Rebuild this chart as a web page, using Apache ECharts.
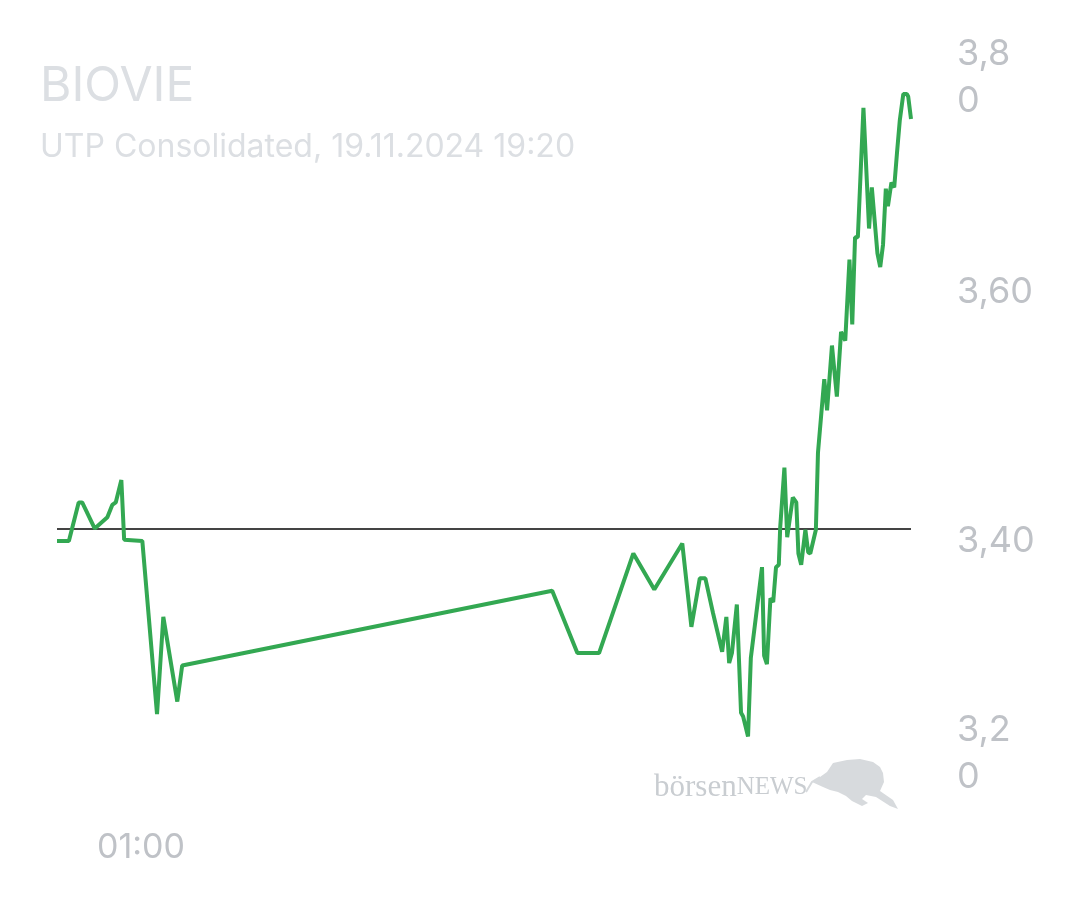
<!DOCTYPE html>
<html>
<head>
<meta charset="utf-8">
<style>html,body{margin:0;padding:0;background:#fff}#c{width:1080px;height:900px}</style>
<script src="https://cdn.jsdelivr.net/npm/echarts@6/dist/echarts.min.js"></script>
</head>
<body>
<div id="c"></div>
<script>
// minutes from midnight 19.11.2024 (negative = previous evening)
const times = [-60,-43,-29,-24,-6,12,19,24,32,36,62,83,92,112,119,
  648,684,715,764,794,834,847,859,867,878,891,897,901,905,912,918,921,928,932,
  948,951,955,960,964,968,972,974,980,984,992,997,1000,1004,1010,1014,1017,
  1025,1028,1037,1041,1048,1055,1061,1067,1073,1077,1081,1085,1093,1101,1105,
  1113,1117,1121,1125,1128,1133,1137,1141,1145,1150,1155,1157,1161];
const prices = [3.400,3.400,3.431,3.431,3.410,3.419,3.429,3.431,3.449,3.401,3.400,3.261,3.339,3.271,3.300,
  3.360,3.310,3.310,3.390,3.361,3.398,3.331,3.370,3.370,3.342,3.311,3.339,3.302,3.310,3.349,3.262,3.259,3.243,3.306,
  3.379,3.308,3.301,3.354,3.351,3.379,3.381,3.411,3.459,3.403,3.435,3.431,3.390,3.381,3.409,3.391,3.390,
  3.409,3.471,3.530,3.505,3.557,3.516,3.568,3.561,3.626,3.574,3.644,3.644,3.748,3.651,3.684,
  3.631,3.620,3.638,3.683,3.669,3.688,3.684,3.712,3.738,3.759,3.759,3.757,3.739];
const previousClose = 3.41;
const yTicks = [3.2, 3.4, 3.6, 3.8];
const xTickLabels = {60: '01:00'};
const titleText = 'BIOVIE';
const subtitleText = 'UTP Consolidated, 19.11.2024 19:20';

const chart = echarts.init(document.getElementById('c'), null, {renderer: 'canvas'});
const data = times.map((t, i) => [t, prices[i]]);
const fmtY = v => {
  const s = v.toFixed(2).replace('.', ',');
  if (Math.abs(v - 3.8) < 1e-6) return '{s| }\n{n|' + s.slice(0, 3) + '}\n{n|' + s.slice(3) + '}';
  if (Math.abs(v - 3.2) < 1e-6) return '{n|' + s.slice(0, 3) + '}\n{n|' + s.slice(3) + '}\n{s2| }';
  return '{n|' + s + '}';
};
const labelColor = '#bfc2c7';
const labelFont = 'Inter, "Noto Sans", sans-serif';
const serif = '"Liberation Serif", "DejaVu Serif", serif';
chart.setOption({
  backgroundColor: '#ffffff',
  animation: false,
  title: [{
    text: titleText,
    subtext: subtitleText,
    left: 35, top: 58,
    itemGap: 20,
    textStyle: {color: '#dcdfe3', fontSize: 48, fontWeight: 'normal', fontFamily: labelFont},
    subtextStyle: {color: '#dcdfe3', fontSize: 32, fontFamily: labelFont}
  }],
  grid: {left: 57, right: 169, top: 43, bottom: 110, containLabel: false, outerBoundsMode: 'none'},
  xAxis: {
    type: 'value', min: -60, max: 1161, interval: 60,
    axisLine: {show: false}, axisTick: {show: false}, splitLine: {show: false},
    axisLabel: {
      margin: 41, color: labelColor, fontSize: 34, fontFamily: labelFont,
      showMinLabel: true, showMaxLabel: false,
      formatter: v => xTickLabels[v] || ''
    }
  },
  yAxis: {
    type: 'value', position: 'right', min: 3.2, max: 3.8, interval: 0.2,
    axisLine: {show: false}, axisTick: {show: false}, splitLine: {show: false},
    axisLabel: {
      margin: 46, align: 'left', color: labelColor, fontSize: 36, fontFamily: labelFont,
      formatter: v => yTicks.some(t => Math.abs(t - v) < 1e-6) ? fmtY(v) : '',
      rich: {
        n: {color: labelColor, fontSize: 36, fontFamily: labelFont, lineHeight: 47},
        s: {fontSize: 10, lineHeight: 70},
        s2: {fontSize: 10, lineHeight: 72}
      }
    }
  },
  series: [{
    type: 'line', data: data, showSymbol: false, symbol: 'none',
    lineStyle: {color: '#33a852', width: 4},
    z: 3,
    markLine: {
      silent: true, symbol: 'none', label: {show: false},
      lineStyle: {color: '#444444', width: 2.2, type: 'solid'},
      data: [{yAxis: previousClose}],
      z: 2
    }
  }],
  graphic: [
    {
      type: 'text', left: 654, top: 772, z: 1,
      style: {
        text: '{a|börsen}{b|NEWS}',
        rich: {
          a: {fontFamily: serif, fontSize: 31, fill: '#c9cdd1'},
          b: {fontFamily: serif, fontSize: 25, fill: '#c9cdd1'}
        }
      }
    },
    {
      type: 'polyline', z: 1,
      shape: {points: [[806,792],[812,782],[820,777]]},
      style: {stroke: '#d7dadd', lineWidth: 2, fill: null}
    },
    {
      type: 'polygon', z: 1,
      shape: {points: [[812,782],[820,777],[827,772],[833,763],[847,760],[860,759],[873,762],[880,767],[883,773],[884,782],[880,791],[893,800],[898,809],[890,806],[876,797],[866,795],[862,799],[868,803],[862,806],[852,801],[846,796],[838,792],[830,790],[823,787]]},
      style: {fill: '#d7dadd'}
    }
  ]
});
</script>
</body>
</html>
